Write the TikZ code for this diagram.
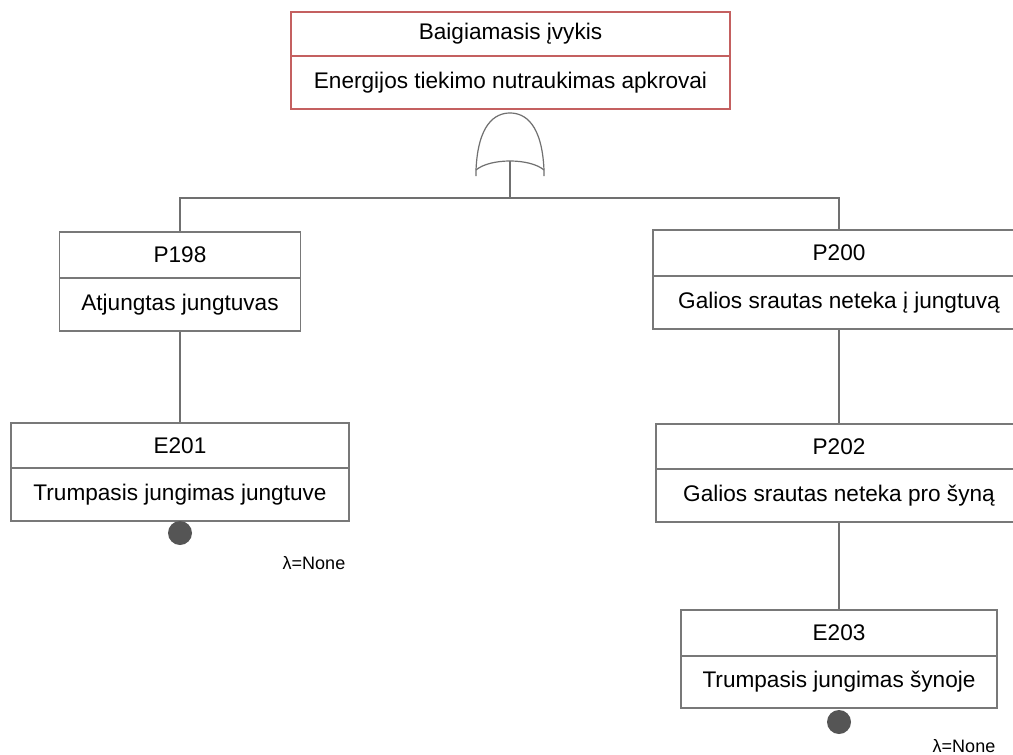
\documentclass[tikz,border=0pt]{standalone}
\usepackage{fontspec}
\setmainfont{Liberation Sans}
\begin{document}
\definecolor{linegray}{RGB}{112,112,112}
\definecolor{boxgray}{RGB}{120,120,120}
\definecolor{topred}{RGB}{196,96,96}
\definecolor{dotgray}{RGB}{85,85,85}
\begin{tikzpicture}[x=1pt,y=-1pt,
  every node/.style={font=\fontsize{22.6}{27}\selectfont, inner sep=0pt},
  cell/.style={draw=boxgray, line width=1.3pt, fill=white, rectangle},
  topcell/.style={cell, draw=topred},
  wire/.style={draw=linegray, line width=1.3pt},
  basic/.style={circle, fill=dotgray, minimum size=24pt},
  rate/.style={font=\fontsize{18}{21}\selectfont},
  orgate/.style={draw=linegray, line width=1.2pt}
]
\useasboundingbox (0,0) rectangle (1013,755);
\clip (0,0) rectangle (1013,755);
\fill[white] (0,0) rectangle (1013,755);

% top event
\node[topcell, minimum width=439pt, minimum height=44pt] (toph) at (510.5,34) {Baigiamasis įvykis};
\node[topcell, minimum width=439pt, minimum height=53pt] (topb) at (510.5,82.5) {Energijos tiekimo nutraukimas apkrovai};

% OR gate
\path[orgate] (476,176) -- (476,170)
  .. controls (478,124) and (495,113) .. (510,113)
  .. controls (525,113) and (542,124) .. (544,170) -- (544,176);
\path[orgate] (476,170) .. controls (490,158) and (530,158) .. (544,170);
\coordinate (gate) at (510,161);
\coordinate (bus) at (510,198);

% left branch
\node[cell, minimum width=241pt, minimum height=46pt] (p198h) at (180,255) {P198};
\node[cell, minimum width=241pt, minimum height=53pt] (p198b) at (180,304.5) {Atjungtas jungtuvas};
\node[cell, minimum width=338pt, minimum height=45pt] (e201h) at (180,445.5) {E201};
\node[cell, minimum width=338pt, minimum height=53pt] (e201b) at (180,494.5) {Trumpasis jungimas jungtuve};
\node[basic] (e201d) at (180,533) {};
\node[rate] (e201r) at (314,563) {λ=None};

% right branch
\node[cell, minimum width=372pt, minimum height=46pt] (p200h) at (839,253) {P200};
\node[cell, minimum width=372pt, minimum height=53pt] (p200b) at (839,302.5) {Galios srautas neteka į jungtuvą};
\node[cell, minimum width=366pt, minimum height=45pt] (p202h) at (839,446.5) {P202};
\node[cell, minimum width=366pt, minimum height=53pt] (p202b) at (839,495.5) {Galios srautas neteka pro šyną};
\node[cell, minimum width=316pt, minimum height=46pt] (e203h) at (839,633) {E203};
\node[cell, minimum width=316pt, minimum height=52pt] (e203b) at (839,682) {Trumpasis jungimas šynoje};
\node[basic] (e203d) at (839,722) {};
\node[rate] (e203r) at (964,746) {λ=None};

% connectors
\draw[wire] (gate) -- (bus);
\draw[wire] (p198h.north) |- (bus) -| (p200h.north);
\draw[wire] (p198b.south) -- (e201h.north);
\draw[wire] (p200b.south) -- (p202h.north);
\draw[wire] (p202b.south) -- (e203h.north);
\end{tikzpicture}
\end{document}
